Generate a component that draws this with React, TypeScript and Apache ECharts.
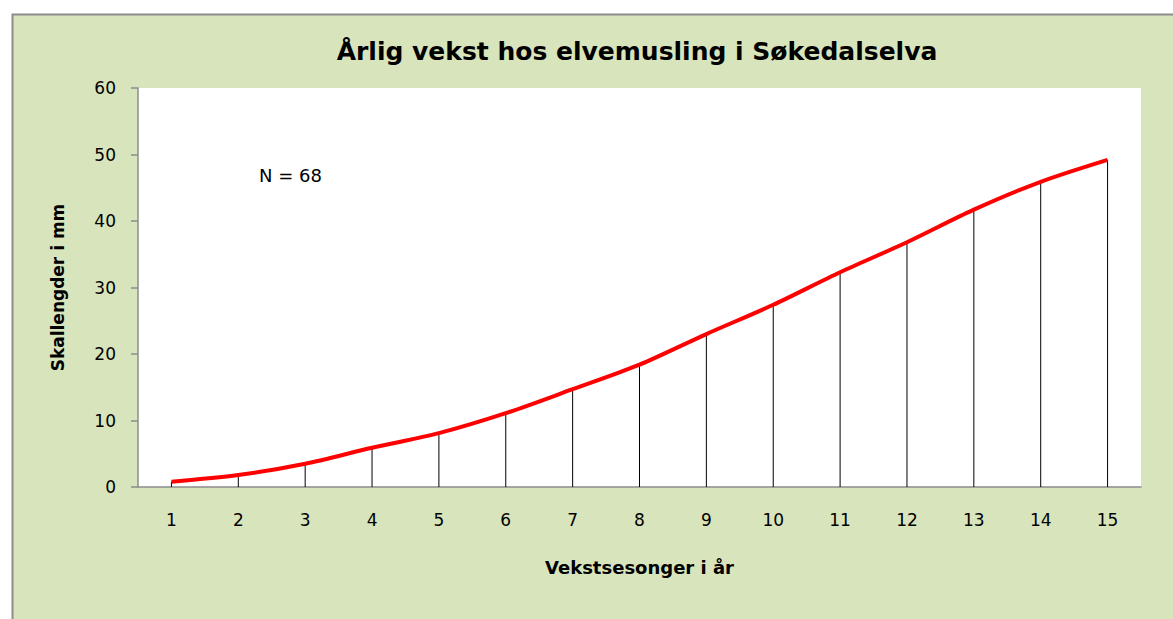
import React, { useEffect, useRef } from "react";
import * as echarts from "echarts";

const categories = ["1", "2", "3", "4", "5", "6", "7", "8", "9", "10", "11", "12", "13", "14", "15"];
const lengths = [0.8, 1.8, 3.5, 5.9, 8.1, 11.1, 14.7, 18.4, 23.0, 27.4, 32.3, 36.8, 41.7, 45.9, 49.2];
const yTicks = { min: 0, max: 60, interval: 10 };
const titleText = "Årlig vekst hos elvemusling i Søkedalselva";
const yName = "Skallengder i mm";
const xName = "Vekstsesonger i år";
const noteText = "N = 68";

const FONT = "'DejaVu Sans', sans-serif";

export default function App() {
  const ref = useRef<HTMLDivElement>(null);
  useEffect(() => {
    document.body.style.margin = "0";
    const chart = echarts.init(ref.current!, undefined, { renderer: "svg" });
    chart.setOption({
      animation: false,
      backgroundColor: "#ffffff",
      graphic: [
        {
          type: "rect",
          z: -10,
          silent: true,
          shape: { x: 12.5, y: 14.5, width: 1200, height: 700 },
          style: { fill: "#d8e4bc", stroke: "#8c8c8c", lineWidth: 2 },
        },
        {
          type: "text",
          left: 259,
          top: 166,
          z: 10,
          style: { text: noteText, fill: "#000", font: `18px ${FONT}` },
        },
      ],
      title: {
        text: titleText,
        left: 632,
        textAlign: "center",
        top: 34,
        textStyle: { fontFamily: FONT, fontSize: 25, fontWeight: "bold", color: "#000" },
      },
      grid: { left: 138, right: 32, top: 88, bottom: 132, backgroundColor: "#ffffff", show: true, borderWidth: 0 },
      xAxis: {
        type: "category",
        data: categories,
        boundaryGap: true,
        name: xName,
        nameLocation: "middle",
        nameGap: 71,
        nameTextStyle: { fontFamily: FONT, fontSize: 18, fontWeight: "bold", color: "#000" },
        axisLine: { show: true, lineStyle: { color: "#8c8c8c", width: 1.5 } },
        axisTick: { show: false },
        axisLabel: { fontFamily: FONT, fontSize: 17, color: "#000", margin: 24 },
        splitLine: { show: false },
      },
      yAxis: {
        type: "value",
        min: yTicks.min,
        max: yTicks.max,
        interval: yTicks.interval,
        name: yName,
        nameLocation: "middle",
        nameGap: 72,
        nameRotate: 90,
        nameTextStyle: { fontFamily: FONT, fontSize: 17, fontWeight: "bold", color: "#000" },
        axisLine: { show: true, lineStyle: { color: "#8c8c8c", width: 1.5 } },
        axisTick: { show: true, length: 7, lineStyle: { color: "#8c8c8c", width: 1.5 } },
        axisLabel: { fontFamily: FONT, fontSize: 17, color: "#000", margin: 22 },
        splitLine: { show: false },
      },
      series: [
        {
          type: "bar",
          data: lengths,
          barWidth: 1,
          itemStyle: { color: "#000000" },
          silent: true,
        },
        {
          type: "line",
          data: lengths,
          smooth: 0.3,
          symbol: "none",
          lineStyle: { color: "#ff0000", width: 4 },
          z: 5,
        },
      ],
    });
    return () => chart.dispose();
  }, []);
  return <div ref={ref} style={{ width: 1173, height: 619 }} />;
}
